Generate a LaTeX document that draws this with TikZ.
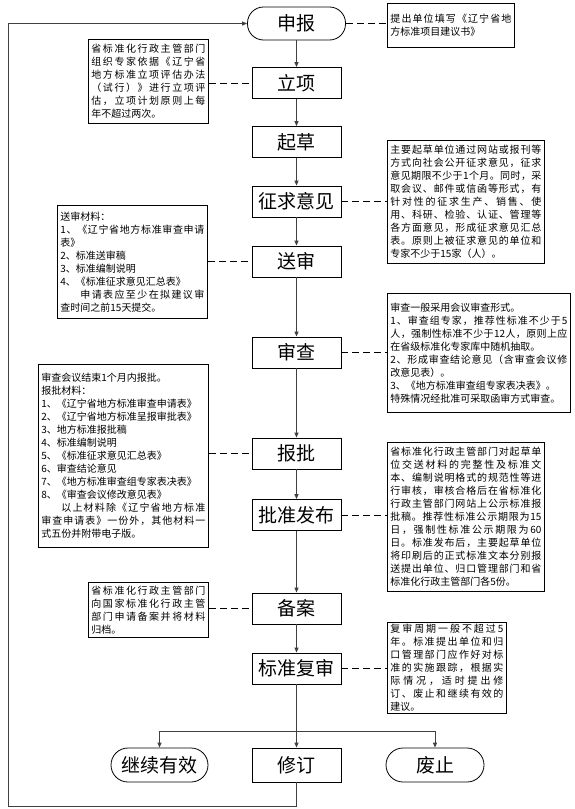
\documentclass[tikz,border=0pt]{standalone}
\usepackage{fontspec}
\setmainfont{Noto Sans CJK SC}
\usetikzlibrary{arrows.meta}
\XeTeXinterchartokenstate=1
\newcount\cjkc
\cjkc="4E00
\loop \XeTeXcharclass\cjkc=7 \advance\cjkc by 1 \ifnum\cjkc<"A000 \repeat
\cjkc="3000
\loop \XeTeXcharclass\cjkc=7 \advance\cjkc by 1 \ifnum\cjkc<"3040 \repeat
\cjkc="FF00
\loop \XeTeXcharclass\cjkc=7 \advance\cjkc by 1 \ifnum\cjkc<"FFF0 \repeat
\XeTeXinterchartoks 7 7 = {\hskip 0pt plus 1pt\relax}
\XeTeXinterchartoks 7 0 = {\hskip 0pt plus 1pt\relax}
\XeTeXinterchartoks 0 7 = {\hskip 0pt plus 1pt\relax}
\newcommand\JL[1]{\noindent\hbox to \linewidth{#1}}
\newcommand\NL[1]{\noindent\hbox{#1}}
\tikzset{
  mainbox/.style={draw, line width=0.8pt, minimum width=89pt, minimum height=31pt, inner sep=0pt, font=\fontsize{19pt}{19pt}\selectfont},
  term/.style={mainbox, rounded corners=16pt, minimum width=98pt, minimum height=33pt},
  note/.style={draw, line width=0.8pt, anchor=north west, inner xsep=3pt, inner ysep=0pt, align=left, font=\fontsize{10pt}{13pt}\selectfont},
  conn/.style={line width=1pt, draw=black!75, -{Triangle[length=5pt,width=4pt]}},
  plain/.style={line width=1pt, draw=black!75},
  dashline/.style={line width=0.9pt, dash pattern=on 7pt off 4pt}
}
\begin{document}
\begin{tikzpicture}[x=1pt, y=-1pt]
\fill[white] (0,0) rectangle (574,809);
\useasboundingbox (0,0) rectangle (574,809);
% main column
\node[term] (shenbao) at (296.5,23.5) {申报};
\node[mainbox] (lixiang) at (296.5,83) {立项};
\node[mainbox] (qicao) at (296.5,142) {起草};
\node[mainbox] (zhengqiu) at (296.5,201.5) {征求意见};
\node[mainbox] (songshen) at (296.5,261.5) {送审};
\node[mainbox] (shencha) at (296.5,352.5) {审查};
\node[mainbox] (baopi) at (296.5,453.5) {报批};
\node[mainbox] (pizhun) at (296.5,515) {批准发布};
\node[mainbox] (beian) at (296.5,608.5) {备案};
\node[mainbox] (fushen) at (296.5,668.5) {标准复审};
\node[term, minimum width=97pt, minimum height=34pt, rounded corners=17pt] (jixu) at (159.5,765) {继续有效};
\node[mainbox, minimum height=34pt] (xiuding) at (296.5,765) {修订};
\node[term, minimum height=34pt, rounded corners=17pt] (feizhi) at (435,765) {废止};
% notes
\node[note, text width=121pt, minimum height=44pt] (R1) at (387,3) {%
\JL{提出单位填写《辽宁省地}\\
\NL{方标准项目建议书》}};
\node[note, text width=114pt, minimum height=84pt] (L1) at (88,39) {%
\JL{省标准化行政主管部门}\\
\JL{组织专家依据《辽宁省}\\
\JL{地方标准立项评估办法}\\
\JL{（试行）》进行立项评}\\
\JL{估，立项计划原则上每}\\
\NL{年不超过两次。}};
\node[note, text width=151pt, minimum height=123pt] (R2) at (387,140) {%
\JL{主要起草单位通过网站或报刊等}\\
\JL{方式向社会公开征求意见，征求}\\
\JL{意见期限不少于1个月。同时，采}\\
\JL{取会议、邮件或信函等形式，有}\\
\JL{针对性的征求生产、销售、使}\\
\JL{用、科研、检验、认证、管理等}\\
\JL{各方面意见，形成征求意见汇总}\\
\JL{表。原则上被征求意见的单位和}\\
\NL{专家不少于15家（人）。}};
\node[note, text width=144pt, minimum height=113pt] (L2) at (57,205) {%
\NL{送审材料：}\\
\JL{1、《辽宁省地方标准审查申请}\\
\NL{表》}\\
\NL{2、标准送审稿}\\
\NL{3、标准编制说明}\\
\NL{4、《标准征求意见汇总表》}\\
\JL{\hspace*{2em}申请表应至少在拟建议审}\\
\NL{查时间之前15天提交。}};
\node[note, text width=177pt, minimum height=119pt] (R3) at (387,293) {%
\NL{审查一般采用会议审查形式。}\\
\JL{1、审查组专家，推荐性标准不少于5}\\
\JL{人，强制性标准不少于12人，原则上应}\\
\NL{在省级标准化专家库中随机抽取。}\\
\JL{2、形成审查结论意见（含审查会议修}\\
\NL{改意见表）。}\\
\NL{3、《地方标准审查组专家表决表》。}\\
\NL{特殊情况经批准可采取函审方式审查。}};
\node[note, text width=164pt, minimum height=183pt] (L3) at (38,364) {%
\NL{审查会议结束1个月内报批。}\\
\NL{报批材料：}\\
\NL{1、《辽宁省地方标准审查申请表》}\\
\NL{2、《辽宁省地方标准呈报审批表》}\\
\NL{3、地方标准报批稿}\\
\NL{4、标准编制说明}\\
\NL{5、《标准征求意见汇总表》}\\
\NL{6、审查结论意见}\\
\NL{7、《地方标准审查组专家表决表》}\\
\NL{8、《审查会议修改意见表》}\\
\JL{\hspace*{2em}以上材料除《辽宁省地方标准}\\
\JL{审查申请表》一份外，其他材料一}\\
\NL{式五份并附带电子版。}};
\node[note, text width=151pt, minimum height=149pt] (R4) at (387,442) {%
\JL{省标准化行政主管部门对起草单}\\
\JL{位交送材料的完整性及标准文}\\
\JL{本、编制说明格式的规范性等进}\\
\JL{行审核，审核合格后在省标准化}\\
\JL{行政主管部门网站上公示标准报}\\
\JL{批稿。推荐性标准公示期限为15}\\
\JL{日，强制性标准公示期限为60}\\
\JL{日。标准发布后，主要起草单位}\\
\JL{将印刷后的正式标准文本分别报}\\
\JL{送提出单位、归口管理部门和省}\\
\NL{标准化行政主管部门各5份。}};
\node[note, text width=114pt, minimum height=55pt] (L4) at (88,582) {%
\JL{省标准化行政主管部门}\\
\JL{向国家标准化行政主管}\\
\JL{部门申请备案并将材料}\\
\NL{归档。}};
\node[note, text width=113pt, minimum height=91pt] (R5) at (387,622) {%
\JL{复审周期一般不超过5}\\
\JL{年。标准提出单位和归}\\
\JL{口管理部门应作好对标}\\
\JL{准的实施跟踪，根据实}\\
\JL{际情况，适时提出修}\\
\JL{订、废止和继续有效的}\\
\NL{建议。}};
% main connectors
\draw[conn] (shenbao) -- (lixiang);
\draw[conn] (lixiang) -- (qicao);
\draw[conn] (qicao) -- (zhengqiu);
\draw[conn] (zhengqiu) -- (songshen);
\draw[conn] (songshen) -- (shencha);
\draw[conn] (shencha) -- (baopi);
\draw[conn] (baopi) -- (pizhun);
\draw[conn] (pizhun) -- (beian);
\draw[conn] (beian) -- (fushen);
\coordinate (split) at (296.5,731);
\draw[plain] (fushen.south) -- (split);
\draw[conn] (split) -- (xiuding.north);
\draw[conn] (split) -| (jixu.north);
\draw[conn] (split) -| (feizhi.north);
\coordinate (fb1) at (296.5,806);
\coordinate (fb2) at (8,806);
\coordinate (fb3) at (8,23.5);
\draw[conn] (xiuding.south) -- (fb1) -- (fb2) -- (fb3) -- (shenbao.west);
% dashed links
\draw[dashline] (shenbao.east) -- (R1.west |- shenbao.east);
\draw[dashline] (L1.east |- lixiang.west) -- (lixiang.west);
\draw[dashline] (zhengqiu.east) -- (R2.west |- zhengqiu.east);
\draw[dashline] (L2.east |- songshen.west) -- (songshen.west);
\draw[dashline] (shencha.east) -- (R3.west |- shencha.east);
\draw[dashline] (L3.east |- baopi.west) -- (baopi.west);
\draw[dashline] (pizhun.east) -- (R4.west |- pizhun.east);
\draw[dashline] (L4.east |- beian.west) -- (beian.west);
\draw[dashline] (fushen.east) -- (R5.west |- fushen.east);
\end{tikzpicture}
\end{document}
